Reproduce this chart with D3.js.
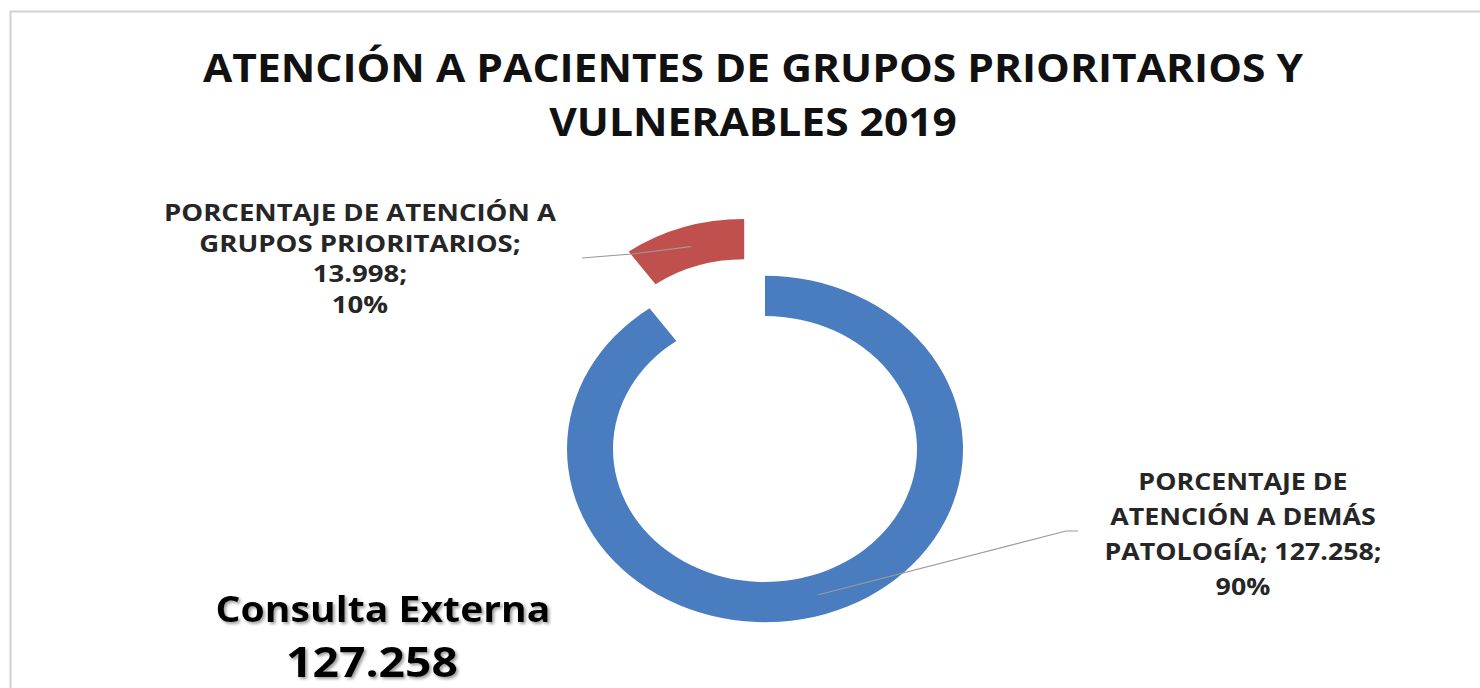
<!DOCTYPE html>
<html lang="es">
	<head>
		<meta charset="utf-8">
		<title>Atención a pacientes de grupos prioritarios</title>
		<script src="https://d3js.org/d3.v7.min.js"></script>
		<style type="text/css">
			body { margin: 0; background: #fff; }
			text { font-family: "Open Sans", sans-serif; font-weight: bold; }
		</style>
	</head>
	<body>
<div id="chart"></div>
		<script type="text/javascript">
// data
var categories = ["PORCENTAJE DE ATENCIÓN A DEMÁS PATOLOGÍA", "PORCENTAJE DE ATENCIÓN A GRUPOS PRIORITARIOS"];
var values = [127258, 13998];
var colors = ["#4a7dbf", "#c0504d"];
var titleLines = ["ATENCIÓN  A PACIENTES  DE GRUPOS PRIORITARIOS Y", "VULNERABLES 2019"];
var noteLabel = "Consulta Externa";
var noteValue = 127258;

//Width and height
var w = 1480;
var h = 688;
var cx = 765, cy = 449;
var ky = 0.875;     // the photo is squashed a little vertically
var explode = 68;

var es = d3.formatLocale({decimal: ",", thousands: ".", grouping: [3], currency: ["$", ""]});
var fmt = es.format(",d");
var total = d3.sum(values);
var pct = values.map(v => Math.round(v / total * 100) + "%");

var svg = d3.select("div#chart")
			.append("svg")
			.attr("width", w)
			.attr("height", h);

// shadow for the note text
var f = svg.append("defs").append("filter").attr("id", "shadow")
	.attr("x", "-10%").attr("y", "-20%").attr("width", "130%").attr("height", "150%");
f.append("feDropShadow").attr("dx", 2).attr("dy", 2).attr("stdDeviation", 1.4)
	.attr("flood-color", "#777").attr("flood-opacity", 0.7);

// slide frame
svg.append("rect")
	.attr("x", 10.5).attr("y", 11.5)
	.attr("width", w + 20).attr("height", h + 20)
	.attr("fill", "none").attr("stroke", "#d2d2d2").attr("stroke-width", 2);

// stacked text lines, stretched so the widest line has the given width
function drawLines(lines, x, y0, lh, size, width, fill) {
	var g = svg.append("g");
	var t = g.selectAll("text").data(lines).join("text")
		.attr("x", x)
		.attr("y", (d, i) => y0 + i * lh)
		.attr("text-anchor", "middle")
		.attr("font-size", size)
		.attr("fill", fill)
		.text(d => d);
	var nat = t.nodes().map(n => n.getComputedTextLength());
	var k = width / d3.max(nat);
	t.attr("textLength", (d, i) => nat[i] * k).attr("lengthAdjust", "spacingAndGlyphs");
	return g;
}

// title
drawLines(titleLines, 753, 82, 54, 39, 1100, "#111");

// donut
var pie = d3.pie().sort(null).value(d => d);
var arcs = pie(values);
var arc = d3.arc().innerRadius(152).outerRadius(198);

function offset(d) {
	var a = (d.startAngle + d.endAngle) / 2;
	return d.index == 1 ? [Math.sin(a) * explode, -Math.cos(a) * explode] : [0, 0];
}

var donut = svg.append("g")
	.attr("transform", "translate(" + cx + "," + cy + ") scale(1," + ky + ")");

donut.selectAll("path")
	.data(arcs)
	.enter()
	.append("path")
	.attr("transform", d => "translate(" + offset(d) + ")")
	.attr("d", arc)
	.attr("fill", (d, i) => colors[i]);

// screen position of a slice centroid
function anchor(d) {
	var c = arc.centroid(d), o = offset(d);
	return [cx + c[0] + o[0], cy + (c[1] + o[1]) * ky];
}

// leader lines
var line = d3.line();
var aBlue = anchor(arcs[0]), aRed = anchor(arcs[1]);
svg.append("path")
	.attr("d", line([[1078, 531], [1066, 531], aBlue]))
	.attr("fill", "none").attr("stroke", "#9a9a9a").attr("stroke-width", 1.2);
svg.append("path")
	.attr("d", line([[582, 258], [632, 254], aRed]))
	.attr("fill", "none").attr("stroke", "#9a9a9a").attr("stroke-width", 1.2);

// data labels
var wRed = categories[1].split(" ");
drawLines([wRed.slice(0, 1).join("") + "  " + wRed.slice(1, 4).join(" "),
	wRed.slice(4).join(" ") + ";",
	fmt(values[1]) + ";",
	pct[1]], 360, 221, 30.5, 24, 392, "#262626");

var wBlue = categories[0].split(" ");
drawLines([wBlue[0] + "  " + wBlue[1],
	wBlue.slice(2, 5).join(" "),
	wBlue.slice(5).join(" ") + "; " + fmt(values[0]) + ";",
	pct[0]], 1243, 490, 35, 24, 277, "#262626");

// note at bottom left
var note = drawLines([noteLabel], 383, 622, 0, 36, 335, "#000");
note.attr("filter", "url(#shadow)");
var note2 = drawLines([fmt(noteValue)], 372, 677, 0, 41, 172, "#000");
note2.attr("filter", "url(#shadow)");

		</script>
	</body>
</html>
